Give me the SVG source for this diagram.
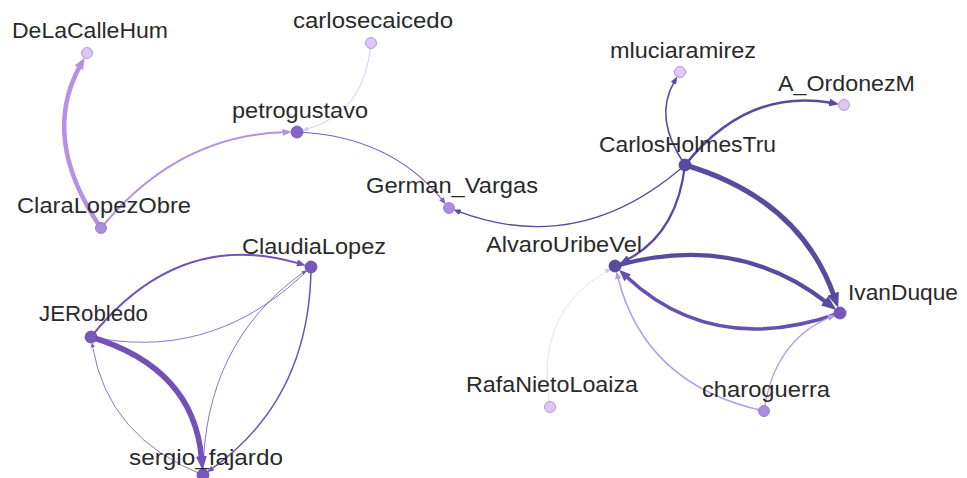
<svg xmlns="http://www.w3.org/2000/svg" width="967" height="478" viewBox="0 0 967 478">
<style>
.e{fill:none;stroke-linecap:butt}
.lilac{stroke:#b491e2}
.lil2{stroke:#b49de4}
.pale{stroke:#dccbf7}
.pale2{stroke:#e6dafb}
.petro{stroke:#7c5fc4}
.dark{stroke:#5a4a9e}
.mid{stroke:#6650b0}
.left{stroke:#7252b8}
.n circle{stroke-width:0.8}
.n text{font-family:"Liberation Sans",Arial,sans-serif;font-size:22px;fill:#2a2a2a}
.c-dark{fill:#5a4a9e;stroke:#4e418c}
.c-mid{fill:#7558ba;stroke:#654aa8}
.c-petro{fill:#8764ca;stroke:#7552b8}
.c-med{fill:#a98ddf;stroke:#9070cc}
.c-light{fill:#dcc7f7;stroke:#a486d8}
</style>
<defs>
<marker id="lilac-l" viewBox="0 0 10 8" refX="2" refY="4" markerWidth="12" markerHeight="9.6" markerUnits="userSpaceOnUse" orient="auto"><path d="M0,0 L10,4 L0,8 z" fill="#b491e2"/></marker>
<marker id="lilac-m" viewBox="0 0 10 8" refX="2" refY="4" markerWidth="9" markerHeight="7.2" markerUnits="userSpaceOnUse" orient="auto"><path d="M0,0 L10,4 L0,8 z" fill="#b491e2"/></marker>
<marker id="lilac-s" viewBox="0 0 10 8" refX="2" refY="4" markerWidth="8" markerHeight="6.4" markerUnits="userSpaceOnUse" orient="auto"><path d="M0,0 L10,4 L0,8 z" fill="#b49de4"/></marker>
<marker id="pale-s" viewBox="0 0 10 8" refX="2" refY="4" markerWidth="6" markerHeight="4.8" markerUnits="userSpaceOnUse" orient="auto"><path d="M0,0 L10,4 L0,8 z" fill="#d6c3f5"/></marker>
<marker id="petro-s" viewBox="0 0 10 8" refX="2" refY="4" markerWidth="7" markerHeight="5.6" markerUnits="userSpaceOnUse" orient="auto"><path d="M0,0 L10,4 L0,8 z" fill="#7c5fc4"/></marker>
<marker id="dark-s" viewBox="0 0 10 8" refX="2" refY="4" markerWidth="7.5" markerHeight="6" markerUnits="userSpaceOnUse" orient="auto"><path d="M0,0 L10,4 L0,8 z" fill="#5a4a9e"/></marker>
<marker id="dark-m" viewBox="0 0 10 8" refX="2" refY="4" markerWidth="10" markerHeight="8" markerUnits="userSpaceOnUse" orient="auto"><path d="M0,0 L10,4 L0,8 z" fill="#5a4a9e"/></marker>
<marker id="dark-l" viewBox="0 0 10 8" refX="2" refY="4" markerWidth="15" markerHeight="12" markerUnits="userSpaceOnUse" orient="auto"><path d="M0,0 L10,4 L0,8 z" fill="#5a4a9e"/></marker>
<marker id="mid-l" viewBox="0 0 10 8" refX="2" refY="4" markerWidth="12" markerHeight="9.6" markerUnits="userSpaceOnUse" orient="auto"><path d="M0,0 L10,4 L0,8 z" fill="#6650b0"/></marker>
<marker id="left-l" viewBox="0 0 10 8" refX="2" refY="4" markerWidth="14" markerHeight="11.2" markerUnits="userSpaceOnUse" orient="auto"><path d="M0,0 L10,4 L0,8 z" fill="#7252b8"/></marker>
<marker id="left-m" viewBox="0 0 10 8" refX="2" refY="4" markerWidth="9" markerHeight="7.2" markerUnits="userSpaceOnUse" orient="auto"><path d="M0,0 L10,4 L0,8 z" fill="#7252b8"/></marker>
<marker id="left-s2" viewBox="0 0 10 8" refX="2" refY="4" markerWidth="7" markerHeight="5.6" markerUnits="userSpaceOnUse" orient="auto"><path d="M0,0 L10,4 L0,8 z" fill="#7252b8"/></marker>
<marker id="left-s" viewBox="0 0 10 8" refX="2" refY="4" markerWidth="5" markerHeight="4" markerUnits="userSpaceOnUse" orient="auto"><path d="M0,0 L10,4 L0,8 z" fill="#7252b8"/></marker>
</defs>
<rect width="967" height="478" fill="#ffffff"/>
<g id="connectors">
<path class="e lilac" stroke-width="4.5" d="M101,228 Q40,139 80,65.8" marker-end="url(#lilac-l)"/>
<path class="e lilac" stroke-width="2" d="M101,228 Q177,135 284.3,132.3" marker-end="url(#lilac-m)"/>
<path class="e pale" stroke-width="1" d="M371,43 Q365,113 306.9,129.2" marker-end="url(#pale-s)"/>
<path class="e petro" stroke-width="1.2" d="M297,132 Q390,136 442.3,199.8" marker-end="url(#petro-s)"/>
<path class="e dark" stroke-width="1.3" d="M685,165 Q580,257 458.9,211.7" marker-end="url(#dark-s)"/>
<path class="e dark" stroke-width="1.6" d="M685,165 Q653,118 674.2,81.8" marker-end="url(#dark-s)"/>
<path class="e dark" stroke-width="2.5" d="M685,165 Q747,88 831.2,102.8" marker-end="url(#dark-m)"/>
<path class="e dark" stroke-width="2.2" d="M685,165 Q677,234 627,259.8" marker-end="url(#dark-m)"/>
<path class="e dark" stroke-width="5" d="M685,165 Q800,199 834.2,296.5" marker-end="url(#dark-l)"/>
<path class="e dark" stroke-width="4.2" d="M615,266 Q737,232 826.9,302.7" marker-end="url(#dark-l)"/>
<path class="e mid" stroke-width="3.6" d="M840,313 Q713,358 626,276.3" marker-end="url(#mid-l)"/>
<path class="e pale2" stroke-width="0.9" d="M550,407 Q533,314 606.8,270.8" marker-end="url(#pale-s)"/>
<path class="e lil2" stroke-width="1.5" d="M764,411 Q645,385 617.9,277.5" marker-end="url(#lilac-s)"/>
<path class="e lil2" stroke-width="1.3" d="M764,411 Q774,341 829.8,317.3" marker-end="url(#lilac-s)"/>
<path class="e left" stroke-width="2" d="M91,337 Q178,228 298.8,263.4" marker-end="url(#left-m)"/>
<path class="e left" stroke-width="0.8" d="M311,267 Q219,359 100.4,338.6" marker-end="url(#left-s)"/>
<path class="e left" stroke-width="5.5" d="M91,337 Q194,368 201.6,458.9" marker-end="url(#left-l)"/>
<path class="e left" stroke-width="0.8" d="M203,475 Q108,437.5 92.6,346.4" marker-end="url(#left-s)"/>
<path class="e left" stroke-width="0.8" d="M203,475 Q204,343 303.2,272.5" marker-end="url(#left-s)"/>
<path class="e left" stroke-width="1.5" d="M311,267 Q310,399 211.6,468.9" marker-end="url(#left-s2)"/>
</g>
<g id="node-DeLaCalleHum" class="n"><circle class="c-light" cx="87" cy="53" r="5.5"/><text x="12" y="38" textLength="156" lengthAdjust="spacingAndGlyphs">DeLaCalleHum</text></g>
<g id="node-carlosecaicedo" class="n"><circle class="c-light" cx="371" cy="43" r="5.5"/><text x="293" y="28" textLength="160" lengthAdjust="spacingAndGlyphs">carlosecaicedo</text></g>
<g id="node-petrogustavo" class="n"><circle class="c-petro" cx="297" cy="132" r="6"/><text x="232" y="118" textLength="136" lengthAdjust="spacingAndGlyphs">petrogustavo</text></g>
<g id="node-German_Vargas" class="n"><circle class="c-med" cx="449" cy="208" r="5.5"/><text x="366" y="193" textLength="172" lengthAdjust="spacingAndGlyphs">German_Vargas</text></g>
<g id="node-ClaraLopezObre" class="n"><circle class="c-med" cx="101" cy="228" r="5.5"/><text x="17" y="213" textLength="174" lengthAdjust="spacingAndGlyphs">ClaraLopezObre</text></g>
<g id="node-mluciaramirez" class="n"><circle class="c-light" cx="680" cy="72" r="5.5"/><text x="610" y="58" textLength="146" lengthAdjust="spacingAndGlyphs">mluciaramirez</text></g>
<g id="node-A_OrdonezM" class="n"><circle class="c-light" cx="844" cy="105" r="5.5"/><text x="778" y="91" textLength="137" lengthAdjust="spacingAndGlyphs">A_OrdonezM</text></g>
<g id="node-CarlosHolmesTru" class="n"><circle class="c-dark" cx="685" cy="165" r="6"/><text x="599" y="152" textLength="177" lengthAdjust="spacingAndGlyphs">CarlosHolmesTru</text></g>
<g id="node-AlvaroUribeVel" class="n"><circle class="c-dark" cx="615" cy="266" r="6"/><text x="486" y="252" textLength="156" lengthAdjust="spacingAndGlyphs">AlvaroUribeVel</text></g>
<g id="node-IvanDuque" class="n"><circle class="c-mid" cx="840" cy="313" r="6"/><text x="848" y="300" textLength="110" lengthAdjust="spacingAndGlyphs">IvanDuque</text></g>
<g id="node-ClaudiaLopez" class="n"><circle class="c-mid" cx="311" cy="267" r="6"/><text x="242" y="254" textLength="144" lengthAdjust="spacingAndGlyphs">ClaudiaLopez</text></g>
<g id="node-JERobledo" class="n"><circle class="c-mid" cx="91" cy="337" r="6"/><text x="39" y="321" textLength="109" lengthAdjust="spacingAndGlyphs">JERobledo</text></g>
<g id="node-sergio_fajardo" class="n"><circle class="c-mid" cx="203" cy="475" r="6"/><text x="129" y="465" textLength="154" lengthAdjust="spacingAndGlyphs">sergio_fajardo</text></g>
<g id="node-RafaNietoLoaiza" class="n"><circle class="c-light" cx="550" cy="407" r="5.5"/><text x="466" y="392" textLength="172" lengthAdjust="spacingAndGlyphs">RafaNietoLoaiza</text></g>
<g id="node-charoguerra" class="n"><circle class="c-med" cx="764" cy="411" r="5.5"/><text x="702" y="397" textLength="128" lengthAdjust="spacingAndGlyphs">charoguerra</text></g>
</svg>
